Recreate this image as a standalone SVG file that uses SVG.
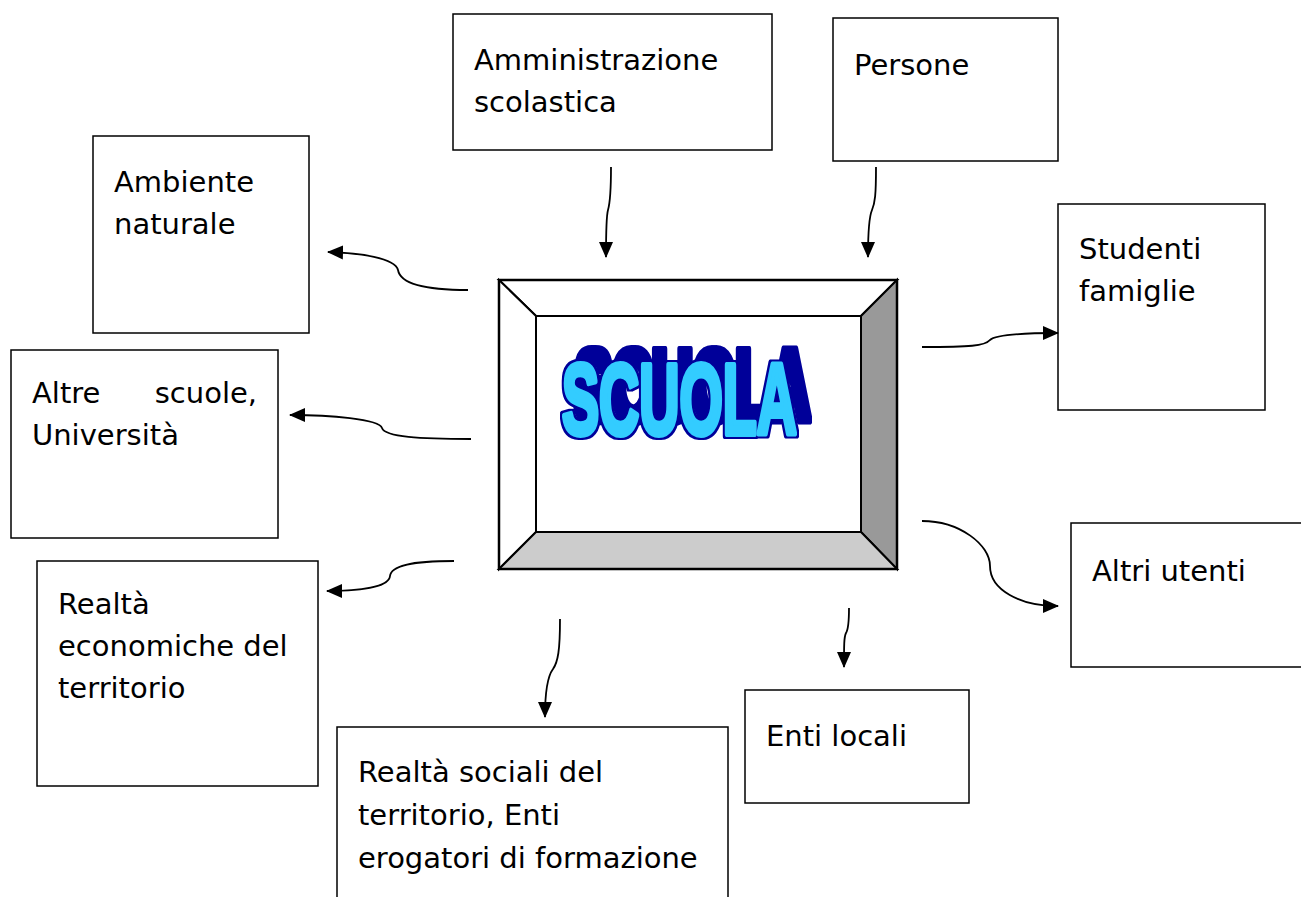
<svg xmlns="http://www.w3.org/2000/svg" width="1301" height="897" viewBox="0 0 1301 897">
<defs>
<style>
.box{fill:#fff;stroke:#000;stroke-width:1.5}
.t{font-family:"DejaVu Sans","Verdana",sans-serif;font-size:29px;fill:#000}
.c{fill:none;stroke:#000;stroke-width:1.8}
.fr{stroke:#000;stroke-width:2;stroke-linejoin:miter}
.wa{font-family:"Liberation Sans",Arial,sans-serif;font-weight:bold;font-size:101px;fill:#33CCFF;stroke:#33CCFF;stroke-width:6;stroke-linejoin:round}
</style>
<marker id="ah" markerUnits="userSpaceOnUse" markerWidth="16" markerHeight="16" viewBox="0 0 16 16" refX="15" refY="8" orient="auto">
<path d="M0,1 L16,8 L0,15 Z" fill="#000"/>
</marker>
<filter id="wordart" x="-15%" y="-40%" width="130%" height="180%" color-interpolation-filters="sRGB">
<feMorphology in="SourceAlpha" operator="dilate" radius="1.6" result="d"/>
<feFlood flood-color="#000099"/>
<feComposite in2="d" operator="in" result="outline"/>
<feOffset in="outline" dx="13" dy="-14" result="sh"/>
<feMerge><feMergeNode in="sh"/><feMergeNode in="outline"/><feMergeNode in="SourceGraphic"/></feMerge>
</filter>
</defs>
<rect width="1301" height="897" fill="#fff"/>

<g id="amministrazione">
<rect class="box" x="453" y="14" width="319" height="136"/>
<text class="t" x="474" y="70">Amministrazione</text>
<text class="t" x="474" y="112">scolastica</text>
</g>
<g id="persone">
<rect class="box" x="833" y="18" width="225" height="143"/>
<text class="t" x="854" y="75">Persone</text>
</g>
<g id="ambiente">
<rect class="box" x="93" y="136" width="216" height="197"/>
<text class="t" x="114" y="192">Ambiente</text>
<text class="t" x="114" y="234">naturale</text>
</g>
<g id="studenti">
<rect class="box" x="1058" y="204" width="207" height="206"/>
<text class="t" x="1079" y="259">Studenti</text>
<text class="t" x="1079" y="301">famiglie</text>
</g>
<g id="altrescuole">
<rect class="box" x="11" y="350" width="267" height="188"/>
<text class="t" x="32" y="403">Altre</text>
<text class="t" x="257" y="403" text-anchor="end">scuole,</text>
<text class="t" x="32" y="445">Università</text>
</g>
<g id="economiche">
<rect class="box" x="37" y="561" width="281" height="225"/>
<text class="t" x="58" y="614">Realtà</text>
<text class="t" x="58" y="656">economiche del</text>
<text class="t" x="58" y="698">territorio</text>
</g>
<g id="altriutenti">
<path class="box" d="M1302,523 H1071 V667 H1302"/>
<text class="t" x="1092" y="581">Altri utenti</text>
</g>
<g id="entilocali">
<rect class="box" x="745" y="690" width="224" height="113"/>
<text class="t" x="766" y="746">Enti locali</text>
</g>
<g id="sociali">
<path class="box" d="M337,898 V727 H728 V898"/>
<text class="t" x="358" y="782">Realtà sociali del</text>
<text class="t" x="358" y="825">territorio, Enti</text>
<text class="t" x="358" y="868">erogatori di formazione</text>
</g>

<g id="scuola">
<polygon class="fr" points="499,280 897,280 861,316 536,316" fill="#fff"/>
<polygon class="fr" points="499,280 536,316 536,532 499,569" fill="#fff"/>
<polygon class="fr" points="897,280 897,569 861,532 861,316" fill="#999"/>
<polygon class="fr" points="499,569 536,532 861,532 897,569" fill="#ccc"/>
<rect class="fr" x="536" y="316" width="325" height="216" fill="#fff"/>
<rect x="499" y="280" width="398" height="289" fill="none" stroke="#000" stroke-width="2.5"/>
<text class="wa" x="562" y="434" textLength="235" lengthAdjust="spacingAndGlyphs" filter="url(#wordart)">SCUOLA</text>
</g>

<g id="connectors">
<path class="c" marker-end="url(#ah)" d="M468,290 C420,290 400,282 398,270 C395,258 360,253 328,252"/>
<path class="c" marker-end="url(#ah)" d="M471,439 C420,439 385,437 382,428 C379,419 330,415 290,415"/>
<path class="c" marker-end="url(#ah)" d="M454,561 C410,561 391,566 390,576 C389,587 360,591 327,591"/>
<path class="c" marker-end="url(#ah)" d="M611,167 C611,195 610,203 608,210 C606,217 606,232 606,257"/>
<path class="c" marker-end="url(#ah)" d="M876,167 C876,195 875,203 872,210 C869,217 868,232 868,257"/>
<path class="c" marker-end="url(#ah)" d="M922,347 C970,347 985,346 990,340 C995,335 1020,333 1058,333"/>
<path class="c" marker-end="url(#ah)" d="M922,521 C960,521 990,545 990,566 C990,590 1020,606 1058,606"/>
<path class="c" marker-end="url(#ah)" d="M560,619 C560,650 558,662 553,669 C547,677 545,692 545,717"/>
<path class="c" marker-end="url(#ah)" d="M849,608 C849,625 848,630 846,633 C844,637 844,645 844,667"/>
</g>
</svg>
